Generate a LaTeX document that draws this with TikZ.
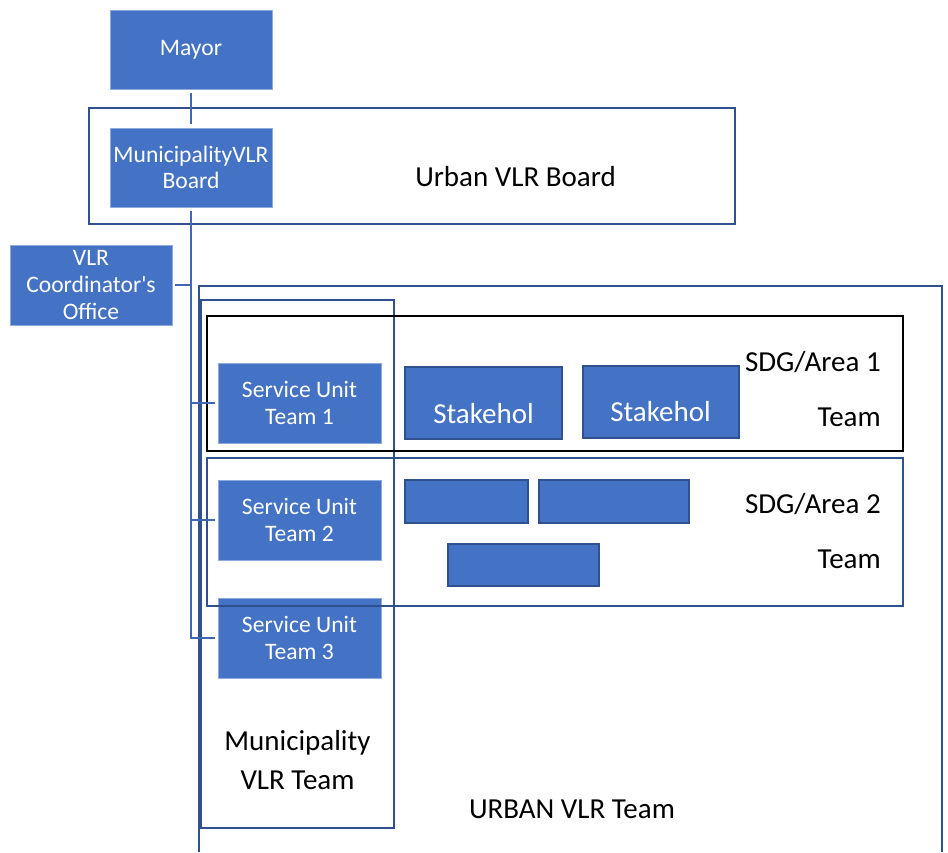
\documentclass[tikz,border=0pt]{standalone}
\usepackage{fontspec}
\setmainfont{Carlito}
\definecolor{boxblue}{HTML}{4472C4}
\definecolor{edgeblue}{HTML}{2F528F}
\definecolor{lightedge}{HTML}{8FAADC}
\definecolor{trunkblue}{HTML}{3F67B5}
\begin{document}
\begin{tikzpicture}[x=0.75pt,y=-0.75pt,
  bluebox/.style={fill=boxblue, draw=lightedge, line width=0.4pt, text=white, align=center, inner sep=0pt,
    font=\fontsize{17.7pt}{19.9pt}\selectfont},
  stakebox/.style={fill=boxblue, draw=edgeblue, line width=1.5pt, inner sep=0pt},
  bigtext/.style={text=black, inner sep=0pt, font=\fontsize{21.75pt}{28.5pt}\selectfont},
  staketext/.style={text=white, inner sep=0pt, font=\fontsize{21.75pt}{26pt}\selectfont},
  frame/.style={draw=edgeblue, line width=1.5pt},
  conn/.style={draw=trunkblue, line width=1.5pt},
]
\useasboundingbox (0,0) rectangle (948,852);

% blue boxes
\node[bluebox, minimum width=121.5pt, minimum height=59.25pt] (mayor) at (191,49.5) {Mayor};
\node[bluebox, minimum width=121.5pt, minimum height=59.25pt] (board) at (191,167.5) {MunicipalityVLR\\Board};
\node[bluebox, minimum width=121.5pt, minimum height=60pt] (coord) at (91,285) {VLR\\Coordinator\textquotesingle s\\Office};
\node[bluebox, minimum width=122.25pt, minimum height=60pt] (su1) at (299.5,403) {Service Unit\\Team 1};
\node[bluebox, minimum width=122.25pt, minimum height=60pt] (su2) at (299.5,520) {Service Unit\\Team 2};
\node[bluebox, minimum width=122.25pt, minimum height=60pt] (su3) at (299.5,638) {Service Unit\\Team 3};

% stakeholder boxes
\node[stakebox, minimum width=117.75pt, minimum height=54pt] (s1) at (483.5,403) {};
\node[stakebox, minimum width=117pt, minimum height=54pt] (s2) at (661,402) {};
\node[staketext, anchor=base] (s1t) at (483.5,423.3) {Stakehol};
\node[staketext, anchor=base] (s2t) at (660.5,421) {Stakehol};
\node[stakebox, minimum width=92.25pt, minimum height=32.25pt] (b1) at (466.5,501.5) {};
\node[stakebox, minimum width=112.5pt, minimum height=32.25pt] (b2) at (614,501.5) {};
\node[stakebox, minimum width=113.25pt, minimum height=31.5pt] (b3) at (523.5,565) {};

% frames
\draw[frame] (89,108) rectangle (735,224);
\draw[frame] (199,852) -- (199,286) -- (942,286) -- (942,852);
\draw[frame] (201,300) rectangle (394,828);
\draw[draw=black, line width=2pt] (207,316) rectangle (903,451);
\draw[frame] (207,458) rectangle (903,606);

% texts
\node[bigtext, anchor=base] (ubt) at (515.5,186.7) {Urban VLR Board};
\node[bigtext, anchor=base east] (a1) at (881,371.3) {SDG/Area 1};
\node[bigtext, anchor=base east] (a1t) at (881,426.7) {Team};
\node[bigtext, anchor=base east] (a2) at (881,513.3) {SDG/Area 2};
\node[bigtext, anchor=base east] (a2t) at (881,568.3) {Team};
\node[bigtext, anchor=base] (mv1) at (297.5,750.7) {Municipality};
\node[bigtext, anchor=base] (mv2) at (297.5,789.3) {VLR Team};
\node[bigtext, anchor=base] (uvt) at (572,818.3) {URBAN VLR Team};

% connectors
\draw[conn, shorten <=2.5pt, shorten >=3pt] (mayor.south) -- (board.north);
\draw[conn, shorten <=2.5pt] (board.south) -- (board.south |- su3.west) -- ([xshift=-2.25pt]su3.west);
\draw[conn] (board.south |- coord.east) -- ([xshift=2.25pt]coord.east);
\draw[conn] (board.south |- su1.west) -- ([xshift=-2.25pt]su1.west);
\draw[conn] (board.south |- su2.west) -- ([xshift=-2.25pt]su2.west);
\end{tikzpicture}
\end{document}
